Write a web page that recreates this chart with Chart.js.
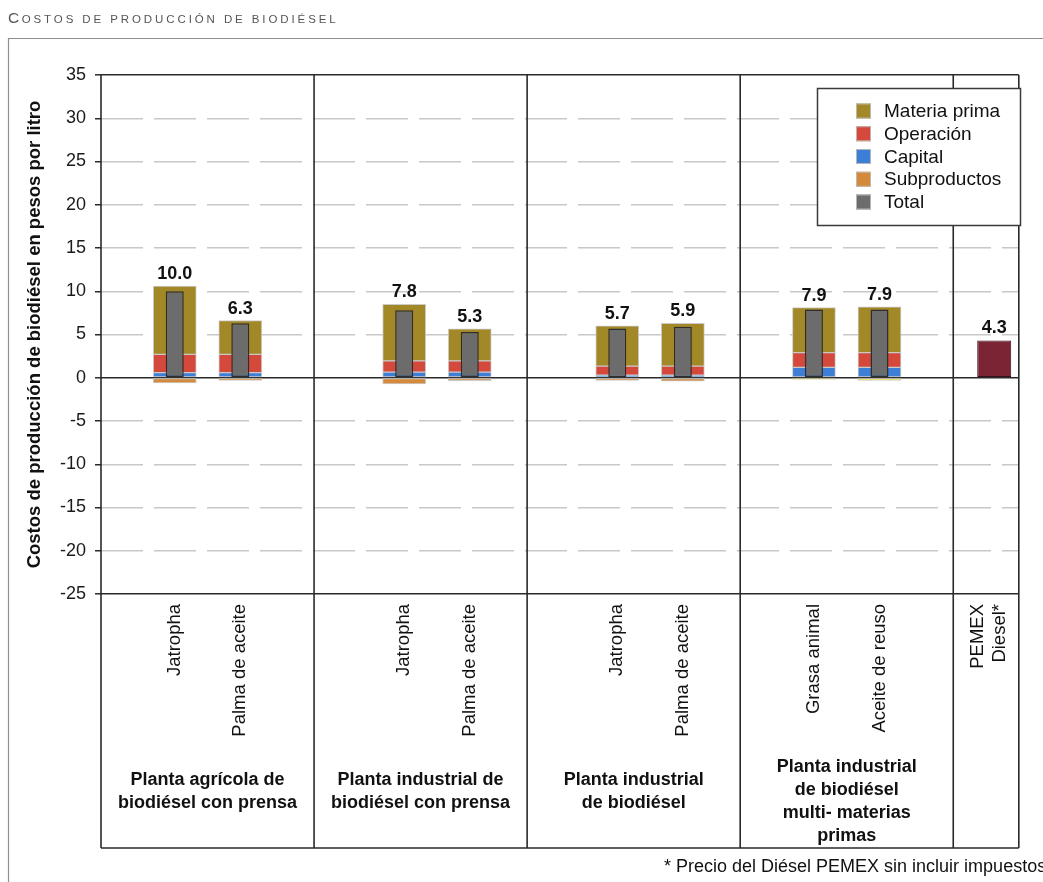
<!DOCTYPE html>
<html lang="es">
<head>
<meta charset="utf-8">
<title>Costos de producción de biodiésel</title>
<script src="https://cdn.jsdelivr.net/npm/chart.js@4/dist/chart.umd.min.js"></script>
<style>
  html, body { margin: 0; padding: 0; background: #ffffff; }
  canvas { display: block; }
</style>
</head>
<body>
<canvas id="chart" width="1043" height="882"></canvas>
<script>
// ---- data ---------------------------------------------------------------
const chartTitle = 'Costos de producción de biodiésel';
const yAxisTitle = 'Costos de producción de biodiésel en pesos por litro';
const footnote = '* Precio del Diésel PEMEX sin incluir impuestos';

const plantTypes = [
  ['Planta agrícola de', 'biodiésel con prensa'],
  ['Planta industrial de', 'biodiésel con prensa'],
  ['Planta industrial', 'de biodiésel'],
  ['Planta industrial', 'de biodiésel', 'multi- materias', 'primas']
];
const feedstocks = ['Jatropha', 'Palma de aceite', 'Jatropha', 'Palma de aceite',
                    'Jatropha', 'Palma de aceite', 'Grasa animal', 'Aceite de reuso'];

// cost components, pesos per litre
const capital      = [0.6, 0.6, 0.65, 0.65, 0.3, 0.3, 1.2, 1.2];
const operacion    = [2.1, 2.1, 1.3, 1.3, 1.05, 1.05, 1.7, 1.7];
const materiaPrima = [7.9, 3.9, 6.55, 3.7, 4.65, 4.95, 5.2, 5.3];
const subproductos = [-0.6, -0.3, -0.7, -0.35, -0.3, -0.4, -0.2, -0.3];
const total        = [10.0, 6.3, 7.8, 5.3, 5.7, 5.9, 7.9, 7.9];

// reference fossil diesel price
const pemexLabel = ['PEMEX', 'Diesel*'];
const pemexDiesel = [4.3];

// value axis
const yMin = -25, yMax = 35, yLabelStep = 5, yGridStep = 2.5;

// ---- styles -------------------------------------------------------------
const FONT = "'Liberation Sans', Arial, Helvetica, sans-serif";
const COLORS = {
  'Materia prima': '#a38827',
  'Operación': '#d4493b',
  'Capital': '#3d7fd7',
  'Subproductos': '#d4893b',
  'Total': '#6c6c6c',
  pemex: '#7b2434',
  subMulti: '#e6df45'
};
const legendOrder = ['Materia prima', 'Operación', 'Capital', 'Subproductos', 'Total'];

// ---- slot layout on the category axis -----------------------------------
const SLOTS_PER_GROUP = 13;
const FIRST_BAR_SLOT = [4, 5, 5, 4];
const BAR_STEP = 4;
const PEMEX_SLOTS = 4;
const PEMEX_LABEL_SLOT = 1;   // two-line caption sits left of the bar slot
const PEMEX_BAR_SLOT = 2;

const slotCount = plantTypes.length * SLOTS_PER_GROUP + PEMEX_SLOTS;
const labels = new Array(slotCount).fill('');
const barSlots = [];
plantTypes.forEach((_, g) => {
  for (let k = 0; k < 2; k++) {
    const s = g * SLOTS_PER_GROUP + FIRST_BAR_SLOT[g] + k * BAR_STEP;
    labels[s] = feedstocks[barSlots.length];
    barSlots.push(s);
  }
});
const pemexBase = plantTypes.length * SLOTS_PER_GROUP;
const pemexSlot = pemexBase + PEMEX_BAR_SLOT;
labels[pemexBase + PEMEX_LABEL_SLOT] = pemexLabel;

function toSlots(values, slots) {
  const out = new Array(slotCount).fill(null);
  slots.forEach((s, i) => { out[s] = values[i]; });
  return out;
}

// by-products of the multi-feedstock plant are shown in yellow
const subColors = new Array(slotCount).fill(COLORS['Subproductos']);
barSlots.forEach((s, i) => { if (Math.floor(i / 2) === 3) subColors[s] = COLORS.subMulti; });

const stackStyle = {
  stack: 'costos', order: 1, barThickness: 43,
  borderColor: 'rgba(200,200,200,0.95)', borderWidth: 1, borderSkipped: false
};

const isFrameValue = v => v === yMin || v === yMax || v === 0;

// ---- frame, group captions, legend and value labels ---------------------
const decorations = {
  id: 'decorations',
  afterDraw(chart) {
    const { ctx, chartArea: a, scales: { x } } = chart;
    const slotW = x.getPixelForValue(1) - x.getPixelForValue(0);
    const bounds = [a.left];
    for (let g = 1; g <= plantTypes.length; g++) {
      bounds.push(x.getPixelForValue(g * SLOTS_PER_GROUP) - slotW / 2);
    }
    bounds.push(a.right);
    const tableBottom = 848;

    ctx.save();

    // outer panel frame
    ctx.strokeStyle = '#8f8f8f';
    ctx.lineWidth = 1.2;
    ctx.beginPath();
    ctx.moveTo(8.5, chart.height);
    ctx.lineTo(8.5, 38.5);
    ctx.lineTo(chart.width, 38.5);
    ctx.stroke();

    // table of group columns
    ctx.strokeStyle = '#2a2a2a';
    ctx.lineWidth = 1.6;
    ctx.beginPath();
    bounds.forEach(bx => { ctx.moveTo(bx, a.top); ctx.lineTo(bx, tableBottom); });
    ctx.moveTo(a.left, tableBottom);
    ctx.lineTo(a.right, tableBottom);
    ctx.stroke();

    // group captions
    ctx.fillStyle = '#111';
    ctx.font = `bold 18px ${FONT}`;
    ctx.textAlign = 'center';
    ctx.textBaseline = 'alphabetic';
    plantTypes.forEach((lines, g) => {
      const cx = (bounds[g] + bounds[g + 1]) / 2;
      const y0 = lines.length > 2 ? 772 : 785;
      lines.forEach((t, i) => ctx.fillText(t, cx, y0 + i * 23));
    });

    // value labels above each bar
    const stacked = [0, 1, 2, 4];
    ctx.font = `bold 18px ${FONT}`;
    ctx.fillStyle = '#111';
    barSlots.forEach((s, i) => {
      let top = Infinity;
      stacked.forEach(d => {
        const el = chart.getDatasetMeta(d).data[s];
        if (el && isFinite(el.y)) top = Math.min(top, el.y);
      });
      const el = chart.getDatasetMeta(0).data[s];
      ctx.fillText(total[i].toFixed(1), el.x, top - 7);
    });
    const pe = chart.getDatasetMeta(5).data[pemexSlot];
    ctx.fillText(pemexDiesel[0].toFixed(1), pe.x, pe.y - 8);

    // legend
    const lx = 817.5, ly = 88.5, lw = 203, lh = 137;
    ctx.fillStyle = '#ffffff';
    ctx.fillRect(lx, ly, lw, lh);
    ctx.strokeStyle = '#3a3a3a';
    ctx.lineWidth = 1.5;
    ctx.strokeRect(lx, ly, lw, lh);
    ctx.font = `19px ${FONT}`;
    ctx.textAlign = 'left';
    ctx.textBaseline = 'middle';
    legendOrder.forEach((name, i) => {
      const cy = 111 + i * 22.75;
      ctx.fillStyle = COLORS[name];
      ctx.fillRect(856, cy - 7.5, 15, 15);
      ctx.strokeStyle = 'rgba(190,190,190,0.9)';
      ctx.lineWidth = 1;
      ctx.strokeRect(856.5, cy - 7, 14, 14);
      ctx.fillStyle = '#111';
      ctx.fillText(name, 884, cy + 1);
    });

    // footnote
    ctx.font = `18px ${FONT}`;
    ctx.fillStyle = '#111';
    ctx.textBaseline = 'alphabetic';
    ctx.fillText(footnote, 664, 872);

    // panel title in small capitals
    ctx.fillStyle = '#555';
    ctx.font = `15.5px ${FONT}`;
    const first = chartTitle.charAt(0);
    ctx.fillText(first, 8, 23);
    const rx = 8 + ctx.measureText(first).width + 2.5;
    ctx.font = `11.5px ${FONT}`;
    ctx.letterSpacing = '2.9px';
    ctx.fillText(chartTitle.slice(1).toUpperCase(), rx, 23);

    ctx.restore();
  }
};

new Chart(document.getElementById('chart'), {
  type: 'bar',
  data: {
    labels,
    datasets: [
      { label: 'Capital', data: toSlots(capital, barSlots), backgroundColor: COLORS['Capital'], ...stackStyle },
      { label: 'Operación', data: toSlots(operacion, barSlots), backgroundColor: COLORS['Operación'], ...stackStyle },
      { label: 'Materia prima', data: toSlots(materiaPrima, barSlots), backgroundColor: COLORS['Materia prima'], ...stackStyle },
      { label: 'Subproductos', data: toSlots(subproductos, barSlots), backgroundColor: subColors, ...stackStyle },
      { label: 'Total', data: toSlots(total, barSlots), stack: 'total', grouped: false, order: 0,
        backgroundColor: COLORS['Total'], borderColor: '#2e2e2e', borderWidth: 1.5, borderSkipped: false,
        categoryPercentage: 1, barPercentage: 6, maxBarThickness: 18 },
      { label: 'PEMEX Diesel', data: toSlots(pemexDiesel, [pemexSlot]), stack: 'pemex', grouped: false, order: 0,
        backgroundColor: COLORS.pemex, borderColor: '#3a1018', borderWidth: 1, borderSkipped: false,
        categoryPercentage: 1, barPercentage: 6, maxBarThickness: 34 }
    ]
  },
  options: {
    responsive: false,
    animation: false,
    events: [],
    layout: { padding: { top: 75, right: 21, left: 0, bottom: 0 } },
    plugins: { legend: { display: false }, tooltip: { enabled: false }, title: { display: false } },
    scales: {
      x: {
        afterFit: s => { s.height = 288; },
        grid: { display: false, drawTicks: false },
        border: { display: false },
        ticks: {
          autoSkip: false, minRotation: 90, maxRotation: 90, padding: 10,
          color: '#111', font: { family: FONT, size: 18.5 }
        }
      },
      y: {
        stacked: true,
        min: yMin, max: yMax,
        afterFit: s => { s.width = 101; },
        ticks: {
          stepSize: yGridStep,
          padding: 9,
          color: '#1a1a1a',
          font: { family: FONT, size: 18 },
          callback: v => (v % yLabelStep === 0 ? String(v) : '')
        },
        grid: {
          color: c => isFrameValue(c.tick.value) ? '#2a2a2a' : '#c8c8c8',
          lineWidth: c => isFrameValue(c.tick.value) ? 1.6 : 1.5,
          tickLength: 6,
          tickWidth: 1.5,
          tickColor: c => c.tick.value % yLabelStep === 0 ? '#2a2a2a' : 'rgba(0,0,0,0)'
        },
        border: {
          display: false,
          dash: c => (c.tick && !isFrameValue(c.tick.value)) ? [42, 11] : []
        },
        title: {
          display: true, text: yAxisTitle, color: '#111',
          font: { family: FONT, size: 18.5, weight: 'bold' },
          padding: { top: 24, bottom: 0 }
        }
      }
    }
  },
  plugins: [decorations]
});
</script>
</body>
</html>
